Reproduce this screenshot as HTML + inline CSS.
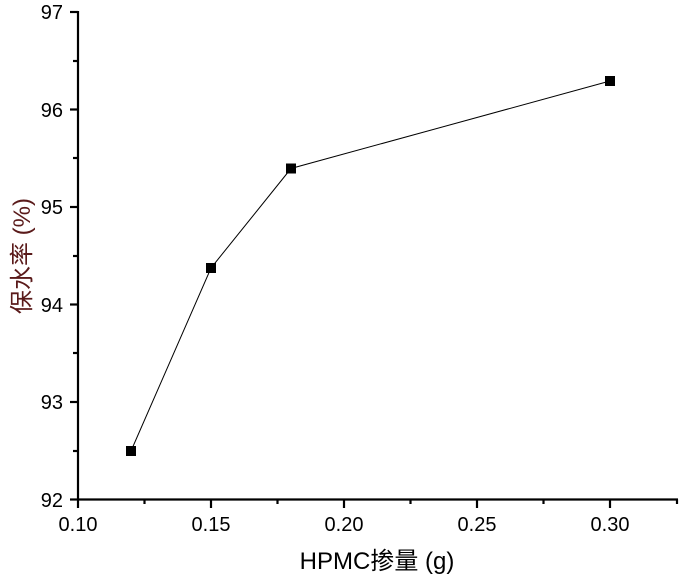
<!DOCTYPE html>
<html><head><meta charset="utf-8"><style>
html,body{margin:0;padding:0;background:#fff;}
svg{display:block;font-family:"Liberation Sans","Noto Sans CJK SC",sans-serif;}
</style></head><body>
<svg width="689" height="578" viewBox="0 0 689 578" xmlns="http://www.w3.org/2000/svg">
<g stroke="#000" stroke-width="2.2" fill="none">
<line x1="78" y1="11" x2="78" y2="500.5"/>
<line x1="77" y1="499.5" x2="678" y2="499.5"/>
<line x1="70" y1="12" x2="78" y2="12"/>
<line x1="73" y1="61" x2="78" y2="61"/>
<line x1="70" y1="109.5" x2="78" y2="109.5"/>
<line x1="73" y1="158" x2="78" y2="158"/>
<line x1="70" y1="207" x2="78" y2="207"/>
<line x1="73" y1="256" x2="78" y2="256"/>
<line x1="70" y1="304.5" x2="78" y2="304.5"/>
<line x1="73" y1="353" x2="78" y2="353"/>
<line x1="70" y1="402" x2="78" y2="402"/>
<line x1="73" y1="451" x2="78" y2="451"/>
<line x1="70" y1="499.5" x2="78" y2="499.5"/>
<line x1="78" y1="499.5" x2="78" y2="508"/>
<line x1="144.5" y1="499.5" x2="144.5" y2="504"/>
<line x1="211" y1="499.5" x2="211" y2="508"/>
<line x1="277.5" y1="499.5" x2="277.5" y2="504"/>
<line x1="344" y1="499.5" x2="344" y2="508"/>
<line x1="410.5" y1="499.5" x2="410.5" y2="504"/>
<line x1="477" y1="499.5" x2="477" y2="508"/>
<line x1="543.5" y1="499.5" x2="543.5" y2="504"/>
<line x1="610" y1="499.5" x2="610" y2="508"/>
<line x1="677" y1="499.5" x2="677" y2="504"/>
</g>
<g font-size="20" fill="#000" text-anchor="end">
<text x="63" y="19">97</text>
<text x="63" y="117">96</text>
<text x="63" y="214">95</text>
<text x="63" y="312">94</text>
<text x="63" y="409">93</text>
<text x="63" y="507">92</text>
</g>
<g font-size="20" fill="#000" text-anchor="middle">
<text x="78" y="531">0.10</text>
<text x="211" y="531">0.15</text>
<text x="344" y="531">0.20</text>
<text x="477" y="531">0.25</text>
<text x="610" y="531">0.30</text>
</g>
<polyline points="131,451 211,268 291,168.5 610,81" stroke="#000" stroke-width="1" fill="none"/>
<g fill="#000">
<rect x="126" y="446" width="10" height="10"/>
<rect x="206" y="263" width="10" height="10"/>
<rect x="286" y="163.5" width="10" height="10"/>
<rect x="605" y="76" width="10" height="10"/>
</g>
<text x="377" y="569" font-size="24" text-anchor="middle" fill="#000">HPMC掺量 (g)</text>
<text transform="translate(30,256) rotate(-90)" font-size="24" text-anchor="middle" fill="#5a1a1a">保水率 (%)</text>
</svg>
</body></html>
